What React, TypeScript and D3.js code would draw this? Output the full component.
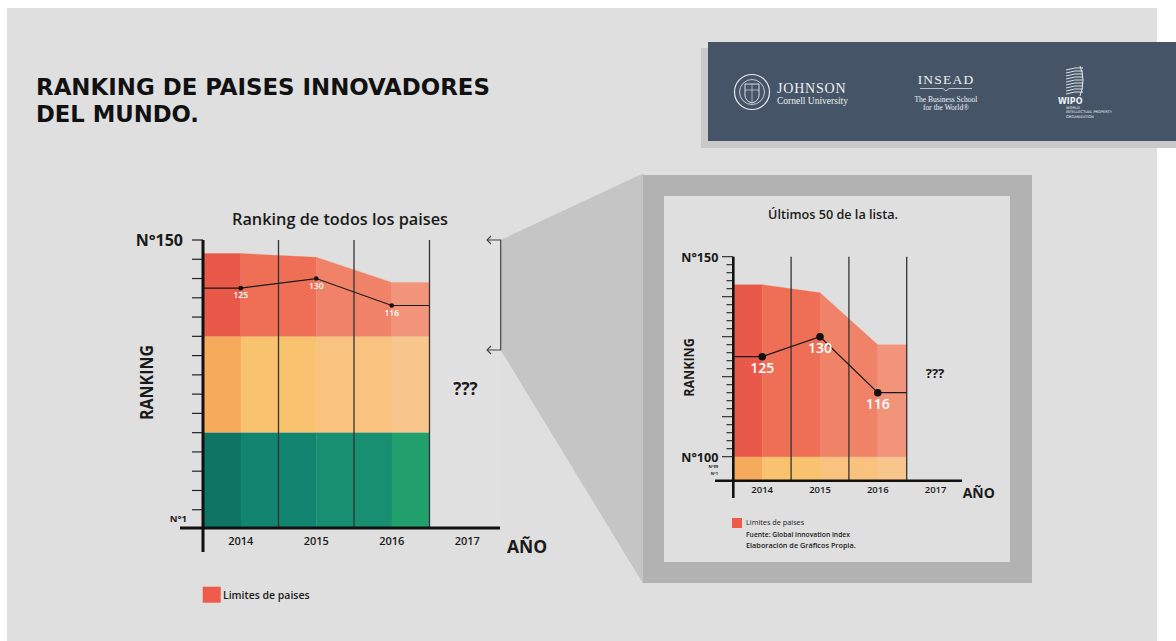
import React from 'react';
import * as d3 from 'd3';

// años del eje x (2017 sin datos)
const years = ['2014', '2015', '2016', '2017'];
const dataYears = ['2014', '2015', '2016'];
// número de países en el ranking por año
const countryLimits = [143, 141, 128];
// posición del Perú
const peruRank = [125, 130, 116];
const rankLabels = ['125', '130', '116'];
// tercios del ranking
const bandBreaks = [0, 50, 100];

const redShades = ['#e9594a', '#ee6f55', '#f08268', '#f29479'];
const orangeShades = ['#f6aa5b', '#f9c26e', '#f9c27f', '#f8c58c'];
const greenShades = ['#0e7565', '#128570', '#178f70', '#21a06e'];

const mainTicks = d3.range(10, 151, 10);
const insetTicks = d3.range(100, 151, 2);

const BG = '#dfdfdf';
const TXT = '#1a1a1a';
const SANS = "'Open Sans', 'Noto Sans', sans-serif";

type Band = d3.ScaleBand<string>;

// knots: axis start, centers of each data year, end of last data band
const knotsX = (x: Band) => {
    const c = dataYears.map(y => (x(y) as number) + x.bandwidth() / 2);
    const last = (x(dataYears[dataYears.length - 1]) as number) + x.bandwidth();
    return [x.range()[0], ...c, last];
};
const knotsV = (v: number[]) => [v[0], ...v, v[v.length - 1]];

interface ChartProps {
    x: Band;
    y: d3.ScaleLinear<number, number>;
    axisBottom: number;
    yAxisEnd: number;
    xAxisStart: number;
    xAxisEnd: number;
    lowerBands: { y0: number; y1: number; shades: string[] }[];
    redBase: number;
    dotR: number;
    labelSize: number;
    labelDy: number;
    lineW: number;
    axisW: number;
}

const ChartBody: React.FC<ChartProps> = ({ x, y, axisBottom, yAxisEnd, xAxisStart, xAxisEnd, lowerBands, redBase, dotR, labelSize, labelDy, lineW, axisW }) => {
    const kx = knotsX(x);
    const limV = knotsV(countryLimits);
    const peruV = knotsV(peruRank);
    const top = y.range()[1];
    const line = d3.line<number>().x((_, i) => kx[i]).y(v => y(v));
    const area = d3.area<[number, number]>().x(d => d[0]).y0(redBase).y1(d => d[1]);
    const bounds = years.slice(1).map(yr => x(yr) as number);
    return (
        <g>
            {lowerBands.map((b, bi) => kx.slice(0, -1).map((x0, i) => (
                <rect key={`b${bi}-${i}`} x={x0} y={b.y1} width={kx[i + 1] - x0 + 0.3} height={b.y0 - b.y1} fill={b.shades[i]} />
            )))}
            {kx.slice(0, -1).map((x0, i) => (
                <path key={`r${i}`}
                    d={area([[x0, y(limV[i])], [kx[i + 1], y(limV[i + 1])]]) as string}
                    fill={redShades[i]} stroke={redShades[i]} strokeWidth={0.3} />
            ))}
            {bounds.map((bx, i) => (
                <line key={`v${i}`} x1={bx} x2={bx} y1={top} y2={axisBottom} stroke="#333" strokeWidth={1.3} />
            ))}
            <path d={line(peruV) as string} fill="none" stroke="#1a1a1a" strokeWidth={lineW} />
            {peruRank.map((v, i) => (
                <g key={`p${i}`}>
                    <circle cx={kx[i + 1]} cy={y(v)} r={dotR} fill="#111" />
                    <text x={kx[i + 1]} y={y(v) + labelDy} fontSize={labelSize} fill="#fff" textAnchor="middle" fontFamily={SANS} fontWeight={600}>{rankLabels[i]}</text>
                </g>
            ))}
            <line x1={x.range()[0]} x2={x.range()[0]} y1={top} y2={yAxisEnd} stroke="#111" strokeWidth={axisW} />
            <line x1={xAxisStart} x2={xAxisEnd} y1={axisBottom} y2={axisBottom} stroke="#111" strokeWidth={axisW} />
        </g>
    );
};

const Logos: React.FC = () => (
    <g>
        <rect x={701} y={48} width={475} height={100} fill="#c9c9c9" />
        <rect x={708} y={42} width={468} height={99} fill="#455567" />
        {/* Cornell seal */}
        <g transform="translate(752,92)" stroke="#e8ecef" fill="none">
            <circle r={17.5} strokeWidth={1.2} />
            <circle r={12.5} strokeWidth={0.8} />
            <path d="M-7,-8 H7 V3 Q7,9 0,11 Q-7,9 -7,3 Z" strokeWidth={0.9} />
            <path d="M-7,-2 H7 M0,-8 V11" strokeWidth={0.6} />
        </g>
        <text x={777} y={92.5} fontFamily="'Liberation Serif', serif" fontSize={14} fill="#eef1f3" letterSpacing={0.8}>JOHNSON</text>
        <text x={777} y={104} fontFamily="'Liberation Serif', serif" fontSize={9.5} fill="#eef1f3">Cornell University</text>
        <text x={946} y={83.5} fontFamily="'Liberation Serif', serif" fontSize={13.5} fill="#eef1f3" textAnchor="middle" letterSpacing={1.2}>INSEAD</text>
        <path d="M920,88.5 H943 L946,91 L949,88.5 H972" stroke="#eef1f3" strokeWidth={0.7} fill="none" />
        <text x={946} y={101.5} fontFamily="'Liberation Serif', serif" fontSize={7.5} fill="#eef1f3" textAnchor="middle">The Business School</text>
        <text x={946} y={110} fontFamily="'Liberation Serif', serif" fontSize={7.5} fill="#eef1f3" textAnchor="middle">for the World®</text>
        {/* WIPO */}
        <g stroke="#eef1f3" strokeWidth={0.9} fill="none">
            {d3.range(9).map(i => (
                <path key={i} d={`M1066,${70 + i * 3} Q1075,${67 + i * 3} 1083,${68 + i * 3}`} />
            ))}
            <path d="M1080,66 Q1086,80 1080,96" />
        </g>
        <text x={1058} y={104} fontFamily="'DejaVu Sans', sans-serif" fontSize={8} fontWeight="bold" fill="#eef1f3">WIPO</text>
        <text x={1066} y={108.5} fontFamily="'DejaVu Sans', sans-serif" fontSize={3.6} fill="#eef1f3">WORLD</text>
        <text x={1066} y={113} fontFamily="'DejaVu Sans', sans-serif" fontSize={3.6} fill="#eef1f3">INTELLECTUAL PROPERTY</text>
        <text x={1066} y={117.5} fontFamily="'DejaVu Sans', sans-serif" fontSize={3.6} fill="#eef1f3">ORGANIZATION</text>
    </g>
);

const App: React.FC = () => {
    // gráfico principal
    const xM = d3.scaleBand<string>().domain(years).range([203, 505]);
    const yM = d3.scaleLinear().domain([0, 150]).range([529, 240]);
    const mainBands = [
        { y0: yM(bandBreaks[1]), y1: yM(bandBreaks[2]), shades: orangeShades },
        { y0: yM(bandBreaks[0]), y1: yM(bandBreaks[1]), shades: greenShades },
    ];

    // detalle: últimos 50
    const xI = d3.scaleBand<string>().domain(years).range([733.3, 964.5]);
    const yI = d3.scaleLinear().domain([100, 150]).range([456.7, 256.7]);
    const insetBottom = 480.7;
    const insetBands = [{ y0: insetBottom, y1: yI(100), shades: orangeShades }];

    return (
        <svg width={1176} height={641} style={{ position: 'absolute', left: 0, top: 0 }}>
            <rect width={1176} height={641} fill="#fff" />
            <rect x={7} y={8} width={1150} height={633} fill={BG} />

            {/* título */}
            <text x={36} y={95} fontFamily="'DejaVu Sans Condensed', 'DejaVu Sans', sans-serif" fontStretch="condensed" fontWeight="bold" fontSize={22.5} fill="#111" textLength={454} lengthAdjust="spacingAndGlyphs">RANKING DE PAISES INNOVADORES</text>
            <text x={36} y={121.7} fontFamily="'DejaVu Sans Condensed', 'DejaVu Sans', sans-serif" fontStretch="condensed" fontWeight="bold" fontSize={22.5} fill="#111" textLength={163} lengthAdjust="spacingAndGlyphs">DEL MUNDO.</text>

            <Logos />

            {/* conector y marco del detalle */}
            <polygon points="500.7,240 643,173.5 643,583.5 500.7,350" fill="#c5c5c5" />
            <rect x={643} y={175} width={389} height={408} fill="#b2b2b2" />
            <rect x={664} y={196} width={346} height={366} fill={BG} />
            <rect x={429.5} y={240} width={71} height={288} fill="#e1e1e1" />

            {/* gráfico principal */}
            <text x={340} y={225} textAnchor="middle" fontFamily={SANS} fontWeight={600} fontSize={15.5} fill={TXT} textLength={216} lengthAdjust="spacingAndGlyphs">Ranking de todos los paises</text>
            {mainTicks.map(t => (
                <line key={t} x1={192} x2={203} y1={yM(t)} y2={yM(t)} stroke="#222" strokeWidth={1.2} />
            ))}
            <ChartBody x={xM} y={yM} axisBottom={528} yAxisEnd={552} xAxisStart={180} xAxisEnd={500}
                lowerBands={mainBands} redBase={yM(bandBreaks[2])} dotR={2.3} labelSize={8.5} labelDy={10}
                lineW={1.2} axisW={3} />
            <text x={183} y={245.5} textAnchor="end" fontFamily={SANS} fontWeight={700} fontSize={16} fill={TXT}>N°150</text>
            <text x={187} y={521.5} textAnchor="end" fontFamily={SANS} fontWeight={700} fontSize={9.5} fill={TXT}>N°1</text>
            <text transform="translate(152.7,382.5) rotate(-90)" textAnchor="middle" fontFamily={SANS} fontWeight={700} fontSize={17.5} fill={TXT} textLength={75} lengthAdjust="spacingAndGlyphs">RANKING</text>
            {years.map(yr => (
                <text key={yr} x={(xM(yr) as number) + xM.bandwidth() / 2} y={545} textAnchor="middle" fontFamily={SANS} fontWeight={600} fontSize={11} fill={TXT}>{yr}</text>
            ))}
            <text x={507} y={553} fontFamily={SANS} fontWeight={700} fontSize={17.5} fill={TXT}>AÑO</text>
            <text x={465.5} y={395} textAnchor="middle" fontFamily={SANS} fontWeight={700} fontSize={17} fill={TXT}>???</text>
            {/* corchete */}
            <path d="M487,240 H500.7 V350 H487" fill="none" stroke="#444" strokeWidth={1.2} />
            <path d="M491,236 L487,240 L491,244 M491,346 L487,350 L491,354" fill="none" stroke="#444" strokeWidth={1.1} />
            <rect x={202.7} y={586.7} width={18} height={16} fill="#ef5b4b" />
            <text x={223} y={599} fontFamily={SANS} fontWeight={600} fontSize={10} fill={TXT} textLength={86.6} lengthAdjust="spacingAndGlyphs">Limites de paises</text>

            {/* detalle */}
            <text x={833} y={219.3} textAnchor="middle" fontFamily={SANS} fontWeight={600} fontSize={12.5} fill={TXT} textLength={130} lengthAdjust="spacingAndGlyphs">Últimos 50 de la lista.</text>
            {insetTicks.map(t => (
                <line key={t} x1={t % 10 === 0 ? 722 : 726.5} x2={733} y1={yI(t)} y2={yI(t)} stroke="#222" strokeWidth={1.1} />
            ))}
            <ChartBody x={xI} y={yI} axisBottom={insetBottom} yAxisEnd={498} xAxisStart={715} xAxisEnd={962}
                lowerBands={insetBands} redBase={yI(100)} dotR={3.8} labelSize={14} labelDy={16}
                lineW={1.3} axisW={2.6} />
            <text x={718.3} y={261.5} textAnchor="end" fontFamily={SANS} fontWeight={700} fontSize={12.5} fill={TXT}>N°150</text>
            <text x={718.3} y={461.5} textAnchor="end" fontFamily={SANS} fontWeight={700} fontSize={12.5} fill={TXT}>N°100</text>
            <text x={718} y={468} textAnchor="end" fontFamily={SANS} fontWeight={700} fontSize={4} fill={TXT}>N°99</text>
            <text x={718} y={474.5} textAnchor="end" fontFamily={SANS} fontWeight={700} fontSize={4} fill={TXT}>N°1</text>
            <text transform="translate(694,367.5) rotate(-90)" textAnchor="middle" fontFamily={SANS} fontWeight={700} fontSize={13.5} fill={TXT} textLength={58.6} lengthAdjust="spacingAndGlyphs">RANKING</text>
            {years.map(yr => (
                <text key={yr} x={(xI(yr) as number) + xI.bandwidth() / 2} y={493.3} textAnchor="middle" fontFamily={SANS} fontWeight={600} fontSize={9.5} fill={TXT}>{yr}</text>
            ))}
            <text x={962.7} y={498.3} fontFamily={SANS} fontWeight={700} fontSize={14} fill={TXT}>AÑO</text>
            <text x={935} y={377.5} textAnchor="middle" fontFamily={SANS} fontWeight={700} fontSize={13} fill={TXT}>???</text>
            <rect x={732} y={518} width={10} height={10} fill="#ef5b4b" />
            <text x={746} y={525} fontFamily={SANS} fontWeight={500} fontSize={7.3} fill={TXT}>Limites de paises</text>
            <text x={746} y={537.3} fontFamily={SANS} fontWeight={600} fontSize={7.3} fill={TXT} textLength={104} lengthAdjust="spacingAndGlyphs">Fuente: Global innovation index</text>
            <text x={746} y={548.3} fontFamily={SANS} fontWeight={600} fontSize={7.3} fill={TXT}>Elaboración de Gráficos Propia.</text>
        </svg>
    );
};

export default App;
